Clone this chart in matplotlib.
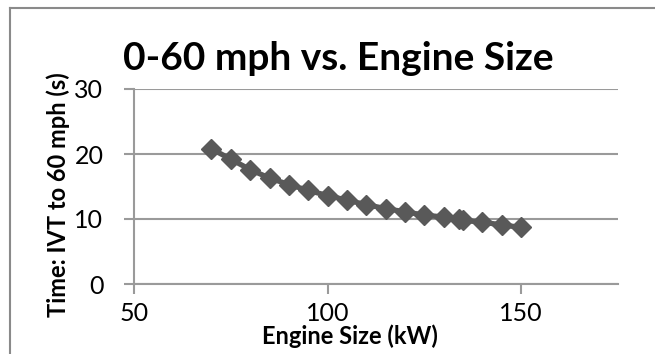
import matplotlib
matplotlib.use("Agg")
import matplotlib.pyplot as plt
from matplotlib.lines import Line2D

engine_kw = [70, 75, 80, 85, 90, 95, 100, 105, 110, 115, 120, 125, 130, 134, 135, 140, 145, 150]
time_s = [20.8, 19.2, 17.6, 16.3, 15.3, 14.4, 13.6, 12.9, 12.2, 11.6, 11.1, 10.6, 10.3, 10.0, 9.8, 9.5, 9.1, 8.7]
x_ticks = [50, 100, 150]
y_ticks = [0, 10, 20, 30]
title = "0-60 mph vs. Engine Size"
x_label = "Engine Size (kW)"
y_label = "Time: IVT to 60 mph (s)"

plt.rcParams['font.family'] = ['Lato', 'DejaVu Sans']

W, H = 655, 354
fig = plt.figure(figsize=(W / 100, H / 100), dpi=100)
ax = fig.add_axes([134 / W, 1 - 284 / H, (618 - 134) / W, (284 - 89) / H])

grid_c = '#9a9a9a'
ax.plot(engine_kw, time_s, color='#595959', lw=3.8, marker='D', ms=10,
        markerfacecolor='#595959', markeredgecolor='#595959', zorder=3)

ax.set_xlim(50, 175)
ax.set_ylim(0, 30)
ax.set_xticks(x_ticks)
ax.set_yticks(y_ticks)
ax.yaxis.grid(True, color=grid_c, lw=1.5)
ax.set_axisbelow(True)
for s in ['top', 'right']:
    ax.spines[s].set_visible(False)
for s in ['left', 'bottom']:
    ax.spines[s].set_color(grid_c)
    ax.spines[s].set_linewidth(1.5)
ax.tick_params(axis='both', direction='out', length=7, width=1.5, color=grid_c,
               labelsize=18, labelcolor='black')
ax.tick_params(axis='x', pad=6)
ax.tick_params(axis='y', pad=15)

fig.text(338 / W, 1 - 59 / H, title, ha='center', va='center', fontsize=28,
         fontweight='bold')
fig.text(350 / W, 1 - 336 / H, x_label, ha='center', va='center', fontsize=17,
         fontweight='bold')
fig.text(58 / W, 1 - 195 / H, y_label, ha='center', va='center', fontsize=17,
         fontweight='bold', rotation=90)

# chart-area border (left and top edges visible)
fig.add_artist(Line2D([10 / W, 10 / W], [0, 1 - 8 / H], transform=fig.transFigure,
                      color='#8a8a8a', lw=1.5))
fig.add_artist(Line2D([10 / W, 1], [1 - 8 / H, 1 - 8 / H], transform=fig.transFigure,
                      color='#8a8a8a', lw=1.5))

fig.savefig('out.png', dpi=100)
